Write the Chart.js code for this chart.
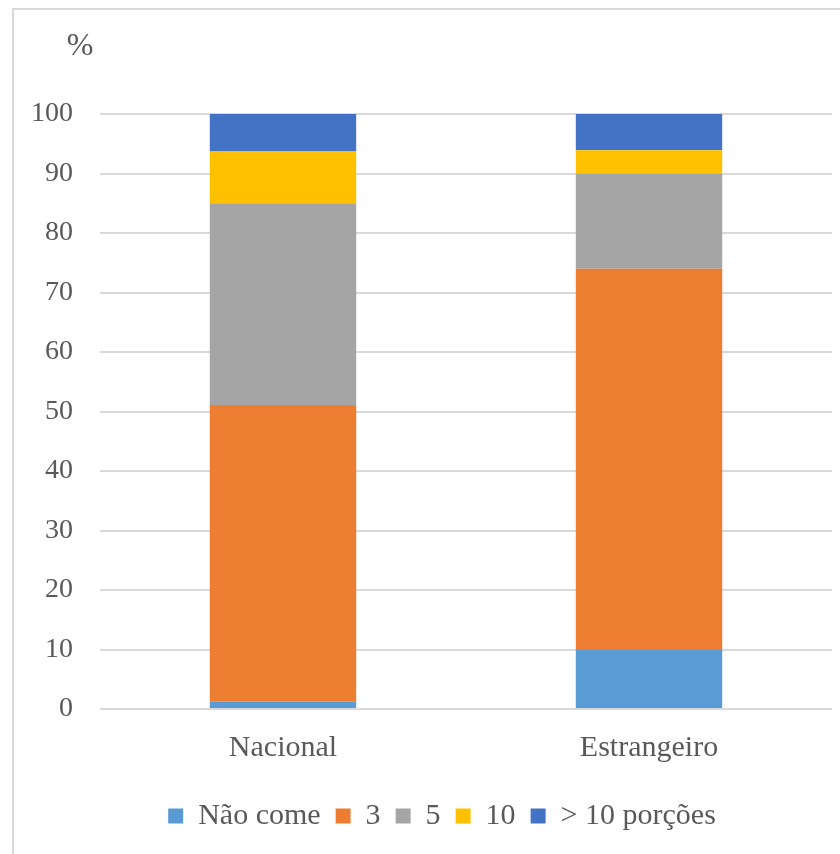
<!DOCTYPE html>
<html>
<head>
<meta charset="utf-8">
<script src="https://cdn.jsdelivr.net/npm/chart.js@4/dist/chart.umd.min.js"></script>
<style>
  html, body { margin: 0; padding: 0; background: #fff; overflow: hidden; }
  #wrap { width: 840px; height: 854px; overflow: hidden; }
</style>
</head>
<body>
<div id="wrap"><canvas id="porcoesChart" width="884" height="854"></canvas></div>
<script>
var categorias = ['Nacional', 'Estrangeiro'];
var naoCome   = [1.2, 9.9];
var tres      = [49.9, 64.1];
var cinco     = [33.9, 16.0];
var dez       = [8.7, 3.9];
var maisDez   = [6.3, 6.1];
var yTicks    = [0, 10, 20, 30, 40, 50, 60, 70, 80, 90, 100];

var textColor = '#595959';
var fontFamily = '"Liberation Serif", "Times New Roman", serif';

// light frame around the chart plus the "%" unit label
var frameAndUnit = {
    id: 'frameAndUnit',
    afterDraw: function(chart) {
        var ctx = chart.ctx;
        ctx.save();
        ctx.strokeStyle = '#d9d9d9';
        ctx.lineWidth = 2;
        ctx.beginPath();
        ctx.moveTo(13, 854);
        ctx.lineTo(13, 9);
        ctx.lineTo(chart.width, 9);
        ctx.stroke();

        ctx.fillStyle = textColor;
        ctx.font = '32px ' + fontFamily;
        ctx.textAlign = 'center';
        ctx.textBaseline = 'middle';
        ctx.fillText('%', 80, 47);
        ctx.restore();
    }
};

var ctx = document.getElementById('porcoesChart').getContext('2d');
var myChart = new Chart(ctx, {
    type: 'bar',
    data: {
        labels: categorias,
        datasets: [
            { label: 'Não come', data: naoCome, backgroundColor: '#5B9BD5' },
            { label: '3', data: tres, backgroundColor: '#ED7D31' },
            { label: '5', data: cinco, backgroundColor: '#A5A5A5' },
            { label: '10', data: dez, backgroundColor: '#FFC000' },
            { label: '> 10 porções', data: maisDez, backgroundColor: '#4472C4' }
        ]
    },
    options: {
        responsive: false,
        animation: false,
        layout: {
            padding: { top: 114, right: 0, bottom: 13, left: 0 }
        },
        datasets: {
            bar: { categoryPercentage: 1, barPercentage: 0.4 }
        },
        scales: {
            x: {
                stacked: true,
                grid: { display: false },
                border: { display: false },
                ticks: {
                    color: textColor,
                    padding: 13,
                    font: { family: fontFamily, size: 30 }
                },
                afterFit: function(scale) { scale.height = 77; }
            },
            y: {
                stacked: true,
                min: 0,
                max: 100,
                afterBuildTicks: function(scale) {
                    scale.ticks = yTicks.map(function(v) { return { value: v }; });
                },
                grid: { color: '#d9d9d9', lineWidth: 2, drawTicks: false },
                border: { display: false },
                ticks: {
                    color: textColor,
                    padding: 27,
                    font: { family: fontFamily, size: 28 }
                },
                afterFit: function(scale) { scale.width = 100; }
            },
            // empty spacer on the right, keeps the plot narrower than the legend row
            margemDireita: {
                position: 'right',
                grid: { display: false },
                border: { display: false },
                ticks: { display: false },
                afterFit: function(scale) { scale.width = 52; }
            }
        },
        plugins: {
            tooltip: { enabled: false },
            legend: {
                position: 'bottom',
                labels: {
                    color: textColor,
                    boxWidth: 15,
                    boxHeight: 15,
                    padding: 15,
                    font: { family: fontFamily, size: 30 }
                }
            }
        }
    },
    plugins: [frameAndUnit]
});
</script>
</body>
</html>
